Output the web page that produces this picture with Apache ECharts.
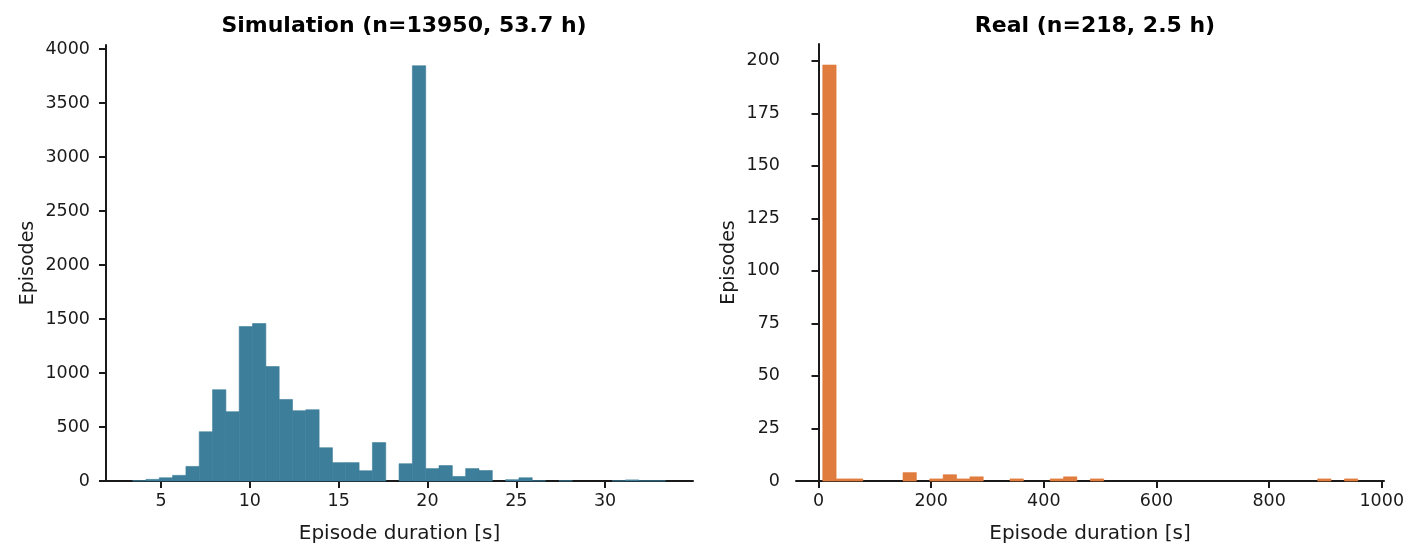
<!DOCTYPE html>
<html>
<head>
<meta charset="utf-8">
<script src="https://cdn.jsdelivr.net/npm/echarts@6/dist/echarts.min.js"></script>
<style>
  html, body { margin: 0; padding: 0; background: #fff; }
  #chart { width: 1422px; height: 558px; }
</style>
</head>
<body>
<div id="chart"></div>
<script>
// histogram bins: first edge, bin width and counts per bin
const simBinStart = 3.4
const simBinWidth = 0.75
const simCounts = [
  3, 15, 30, 52, 135, 456, 845, 642, 1430, 1458,
  1060, 755, 651, 660, 308, 170, 170, 95, 356, 0,
  160, 3845, 115, 143, 42, 115, 97, 0, 12, 30,
  2, 0, 2, 0, 0, 0, 2, 10, 2, 2,
]

const realBinStart = 7.5
const realBinWidth = 23.75
const realCounts = [
  198, 1, 1, 0, 0, 0, 4, 0, 1, 3,
  1, 2, 0, 0, 1, 0, 0, 1, 2, 0,
  1, 0, 0, 0, 0, 0, 0, 0, 0, 0,
  0, 0, 0, 0, 0, 0, 0, 1, 0, 1,
]

const simXTicks = [5, 10, 15, 20, 25, 30]
const simYTicks = [0, 500, 1000, 1500, 2000, 2500, 3000, 3500, 4000]
const realXTicks = [0, 200, 400, 600, 800, 1000]
const realYTicks = [0, 25, 50, 75, 100, 125, 150, 175, 200]

const FONT = 'DejaVu Sans'
const INK = '#1a1a1a'

function toBins(start, width, counts) {
  return counts.map((c, i) => [start + i * width, start + (i + 1) * width, c])
}

function histSeries(idx, data, color) {
  return {
    type: 'custom',
    xAxisIndex: idx,
    yAxisIndex: idx,
    encode: { x: [0, 1], y: 2 },
    data,
    renderItem: (params, api) => {
      if (!api.value(2)) return null
      const p0 = api.coord([api.value(0), api.value(2)])
      const p1 = api.coord([api.value(1), 0])
      return {
        type: 'rect',
        shape: { x: p0[0], y: p0[1], width: p1[0] - p0[0], height: p1[1] - p0[1] },
        style: { fill: color, stroke: color, lineWidth: 0.6 },
      }
    },
  }
}

const plain = v => String(v)

function xAxis(idx, min, max, ticks) {
  return {
    type: 'value',
    gridIndex: idx,
    min, max,
    name: 'Episode duration [s]',
    nameLocation: 'middle',
    nameGap: 43,
    nameTextStyle: { fontFamily: FONT, fontSize: 20, color: INK },
    axisLine: { lineStyle: { color: INK, width: 2 } },
    axisTick: { show: true, length: 7, lineStyle: { color: INK, width: 2 }, customValues: ticks },
    axisLabel: { fontFamily: FONT, fontSize: 17.5, color: INK, margin: 11, formatter: plain, customValues: ticks },
    splitLine: { show: false },
  }
}

function yAxis(idx, max, ticks, gap) {
  return {
    type: 'value',
    gridIndex: idx,
    min: 0, max,
    name: 'Episodes',
    nameLocation: 'middle',
    nameGap: gap,
    nameTextStyle: { fontFamily: FONT, fontSize: 19, color: INK },
    axisLine: { show: true, lineStyle: { color: INK, width: 2 } },
    axisTick: { show: true, length: 7, lineStyle: { color: INK, width: 2 }, customValues: ticks },
    axisLabel: { fontFamily: FONT, fontSize: 17.5, color: INK, margin: 16, formatter: plain, customValues: ticks },
    splitLine: { show: false },
  }
}

const chart = echarts.init(document.getElementById('chart'), null, { renderer: 'canvas' })
chart.setOption({
  animation: false,
  backgroundColor: '#fff',
  title: [
    { text: 'Simulation (n=13950, 53.7 h)', left: 399, top: 10, textAlign: 'center',
      textStyle: { fontFamily: FONT, fontSize: 22, fontWeight: 'bold', color: '#000' } },
    { text: 'Real (n=218, 2.5 h)', left: 1090, top: 10, textAlign: 'center',
      textStyle: { fontFamily: FONT, fontSize: 22, fontWeight: 'bold', color: '#000' } },
  ],
  grid: [
    { left: 106, top: 45, width: 587, height: 436 },
    { left: 796, top: 44, width: 588, height: 437 },
  ],
  xAxis: [
    xAxis(0, 1.9, 34.95, simXTicks),
    xAxis(1, -40, 1004, realXTicks),
  ],
  yAxis: [
    yAxis(0, 4037, simYTicks, 68),
    yAxis(1, 208, realYTicks, 57),
  ],
  series: [
    histSeries(0, toBins(simBinStart, simBinWidth, simCounts), '#3d7e9a'),
    histSeries(1, toBins(realBinStart, realBinWidth, realCounts), '#e07c3e'),
  ],
})
</script>
</body>
</html>
